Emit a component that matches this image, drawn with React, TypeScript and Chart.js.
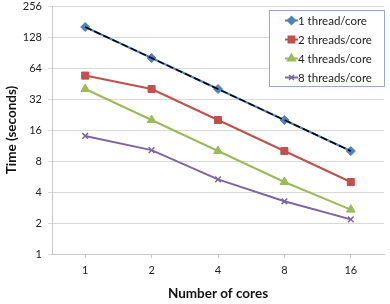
import React, { useEffect, useRef } from "react";
import { Chart, registerables } from "chart.js";
import { drawPoint } from "chart.js/helpers";

Chart.register(...registerables);

const categories = ["1", "2", "4", "8", "16"];
const oneThread = [160, 80, 40, 20, 10];
const twoThreads = [54, 40, 20, 10, 5];
const fourThreads = [40, 20, 10, 5, 2.7];
const eightThreads = [14, 10.2, 5.3, 3.25, 2.17];
const ideal = [160, 80, 40, 20, 10];
const yTicks = [1, 2, 4, 8, 16, 32, 64, 128, 256];
const seriesNames = ["1 thread/core", "2 threads/core", "4 threads/core", "8 threads/core"];
const seriesColors = ["#4F81BD", "#C0504D", "#9BBB59", "#8064A2"];
const seriesPoints = ["rectRot", "rect", "triangle", "crossRot"];
const seriesRadius = [4.5, 5, 5, 4];

const FONT = "Lato, 'Open Sans', sans-serif";

const legendPlugin = {
  id: "insideLegend",
  afterDraw(chart: any) {
    const ctx = chart.ctx;
    const x0 = 269, y0 = 10, w = 115, h = 76;
    ctx.save();
    ctx.fillStyle = "#ffffff";
    ctx.fillRect(x0, y0, w, h);
    ctx.strokeStyle = "#95A9C8";
    ctx.lineWidth = 1;
    ctx.strokeRect(x0 + 0.5, y0 + 0.5, w, h);
    ctx.font = `11.5px ${FONT}`;
    ctx.textBaseline = "middle";
    ctx.textAlign = "left";
    seriesNames.forEach((name, i) => {
      const cy = y0 + 10.5 + i * 19;
      ctx.strokeStyle = seriesColors[i];
      ctx.lineWidth = 2;
      ctx.beginPath();
      ctx.moveTo(285, cy);
      ctx.lineTo(298, cy);
      ctx.stroke();
      ctx.fillStyle = seriesColors[i];
      ctx.strokeStyle = seriesColors[i];
      ctx.lineWidth = 1.5;
      drawPoint(ctx, { pointStyle: seriesPoints[i], radius: seriesRadius[i] - 0.5, borderWidth: 1.5 }, 291.5, cy);
      ctx.fillStyle = "#222222";
      ctx.fillText(name, 298, cy + 0.5);
    });
    ctx.restore();
  },
};

export default function App() {
  const ref = useRef<HTMLCanvasElement | null>(null);
  useEffect(() => {
    document.body.style.margin = "0";
    const seriesData = [oneThread, twoThreads, fourThreads, eightThreads];
    const datasets: any[] = [
      {
        label: "ideal",
        data: ideal,
        borderColor: "#000000",
        borderWidth: 1.5,
        borderDash: [7, 3],
        pointRadius: 0,
        fill: false,
        order: 0,
      },
      ...seriesNames.map((name, i) => ({
        label: name,
        data: seriesData[i],
        borderColor: seriesColors[i],
        backgroundColor: seriesColors[i],
        borderWidth: 2,
        pointStyle: seriesPoints[i],
        pointRadius: seriesRadius[i],
        pointBorderWidth: i === 3 ? 1.5 : 1,
        fill: false,
        order: i + 1,
      })),
    ];
    const chart = new Chart(ref.current!, {
      type: "line",
      data: { labels: categories, datasets },
      plugins: [legendPlugin],
      options: {
        animation: false,
        responsive: false,
        maintainAspectRatio: false,
        layout: { padding: { top: 6, right: 3, left: 0, bottom: 0 } },
        plugins: { legend: { display: false }, tooltip: { enabled: false } },
        scales: {
          x: {
            type: "category",
            offset: true,
            grid: {
              drawOnChartArea: false,
              drawTicks: true,
              tickLength: 4,
              color: "#C8C8C8",
              offset: false,
            },
            border: { color: "#C8C8C8", width: 1 },
            ticks: { color: "#222", font: { family: FONT, size: 11 }, padding: 6 },
            title: {
              display: true,
              text: "Number of cores",
              color: "#111",
              font: { family: FONT, size: 13.5, weight: "bold" },
              padding: { top: 4, bottom: 2 },
            },
            afterFit: (s: any) => {
              s.height = 50;
              s.paddingLeft = 0;
              s.paddingRight = 0;
            },
          },
          y: {
            type: "logarithmic",
            min: 1,
            max: 256,
            grid: { color: "#D9D9D9", tickLength: 4, drawTicks: true },
            border: { color: "#C8C8C8", width: 1 },
            afterBuildTicks: (s: any) => {
              s.ticks = yTicks.map((v) => ({ value: v }));
            },
            ticks: {
              color: "#222",
              font: { family: FONT, size: 11 },
              padding: 6,
              callback: (v: any) => String(v),
            },
            title: {
              display: true,
              text: "Time (seconds)",
              color: "#111",
              font: { family: FONT, size: 13.5, weight: "bold" },
              padding: { top: 4, bottom: 2 },
            },
            afterFit: (s: any) => {
              s.width = 52;
              s.paddingTop = 0;
              s.paddingBottom = 0;
            },
          },
        },
      },
    });
    return () => chart.destroy();
  }, []);
  return (
    <div style={{ width: 390, height: 304, position: "relative" }}>
      <canvas ref={ref} width={390} height={304} style={{ width: 390, height: 304 }} />
    </div>
  );
}
